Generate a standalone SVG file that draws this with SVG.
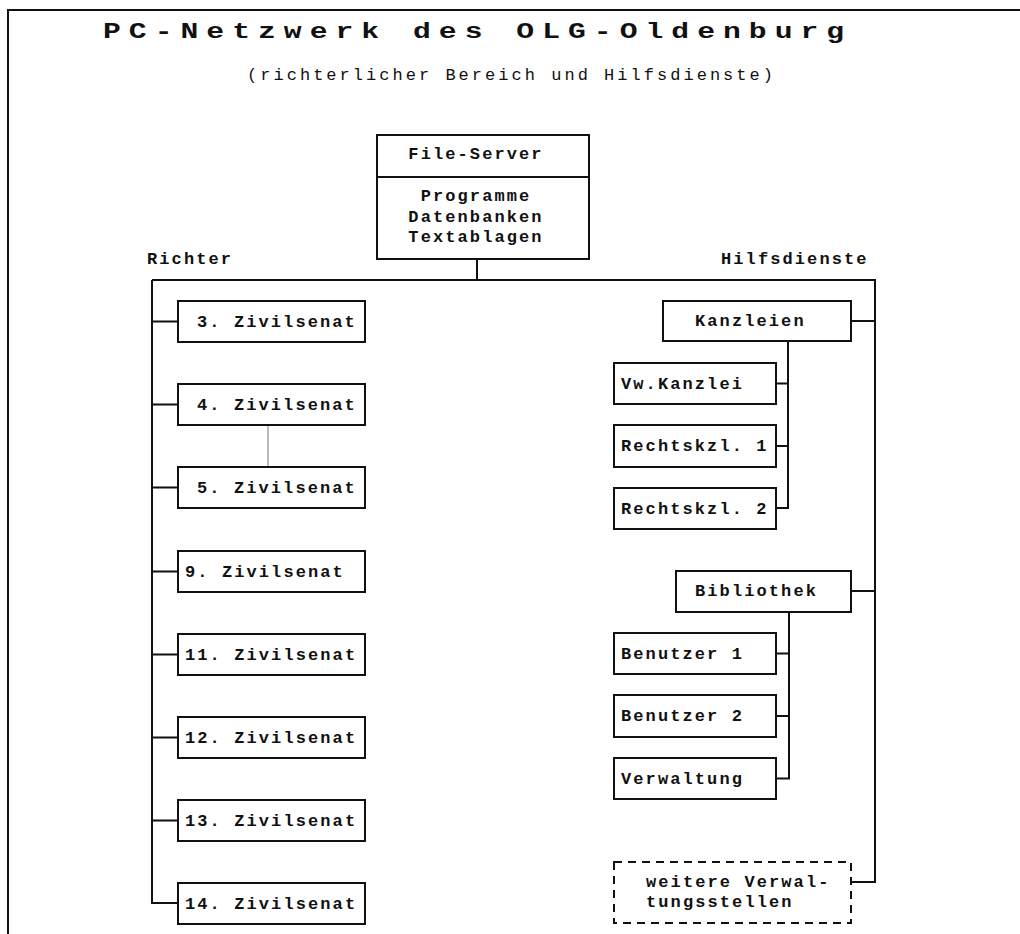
<svg xmlns="http://www.w3.org/2000/svg" width="1020" height="934" viewBox="0 0 1020 934">
<style>
.box{fill:#fff;stroke:#111;stroke-width:2}
.dash{fill:#fff;stroke:#111;stroke-width:2;stroke-dasharray:8 6}
.ln{fill:none;stroke:#111;stroke-width:2}
.t{font-family:"Liberation Mono","DejaVu Sans Mono",monospace;font-size:17px;font-weight:bold;letter-spacing:2.1px;fill:#111}
.title{font-family:"Liberation Mono","DejaVu Sans Mono",monospace;font-size:22px;font-weight:bold;fill:#111}
.sub{font-family:"Liberation Mono","DejaVu Sans Mono",monospace;font-size:17px;fill:#111}
</style>
<rect width="1020" height="934" fill="#fff"/>
<g id="frame">
<path class="ln" d="M8,934 V10 H1020"/>
</g>
<text class="title" transform="translate(103,38) scale(1.35,1)" x="0" y="0" textLength="549" lengthAdjust="spacing">PC-Netzwerk des OLG-Oldenburg</text>
<text class="sub" x="247" y="80" textLength="526" lengthAdjust="spacing">(richterlicher Bereich und Hilfsdienste)</text>
<text class="t" x="147" y="264">Richter</text>
<text class="t" x="721" y="264">Hilfsdienste</text>
<g id="connectors">
<path class="ln" d="M477,259 V280"/>
<path class="ln" d="M152,280 H875 V882 H851"/>
<path class="ln" d="M152,280 V903 H178"/>
<path class="ln" d="M152,321.5 H178 M152,404.5 H178 M152,487.5 H178 M152,571.5 H178 M152,654.5 H178 M152,737.5 H178 M152,820.5 H178"/>
<path class="ln" d="M851,321 H875 M851,591 H875"/>
<path class="ln" d="M788,341 V508 H776 M776,383.5 H788 M776,446 H788"/>
<path class="ln" d="M789,612 V778.5 H776 M776,653.5 H789 M776,716 H789"/>
<path d="M268,415 V478" stroke="#777" stroke-width="1" fill="none"/>
</g>
<g id="fileserver">
<rect class="box" x="377" y="135" width="212" height="124"/>
<line class="ln" x1="377" y1="177" x2="589" y2="177"/>
<text class="t" x="476" y="159" text-anchor="middle">File-Server</text>
<text class="t" x="476" y="201" text-anchor="middle">Programme</text>
<text class="t" x="476" y="222" text-anchor="middle">Datenbanken</text>
<text class="t" x="476" y="242" text-anchor="middle">Textablagen</text>
</g>
<g id="zs3"><rect class="box" x="178" y="301" width="187" height="41"/><text class="t" x="197" y="327">3. Zivilsenat</text></g>
<g id="zs4"><rect class="box" x="178" y="384" width="187" height="41"/><text class="t" x="197" y="410">4. Zivilsenat</text></g>
<g id="zs5"><rect class="box" x="178" y="467" width="187" height="41"/><text class="t" x="197" y="493">5. Zivilsenat</text></g>
<g id="zs9"><rect class="box" x="178" y="551" width="187" height="41"/><text class="t" x="185" y="577">9. Zivilsenat</text></g>
<g id="zs11"><rect class="box" x="178" y="634" width="187" height="41"/><text class="t" x="185" y="660">11. Zivilsenat</text></g>
<g id="zs12"><rect class="box" x="178" y="717" width="187" height="41"/><text class="t" x="185" y="743">12. Zivilsenat</text></g>
<g id="zs13"><rect class="box" x="178" y="800" width="187" height="41"/><text class="t" x="185" y="826">13. Zivilsenat</text></g>
<g id="zs14"><rect class="box" x="178" y="883" width="187" height="41"/><text class="t" x="185" y="909">14. Zivilsenat</text></g>
<g id="kanzleien"><rect class="box" x="663" y="301" width="188" height="40"/><text class="t" x="695" y="326">Kanzleien</text></g>
<g id="vwkanzlei"><rect class="box" x="614" y="363" width="162" height="41"/><text class="t" x="621" y="389">Vw.Kanzlei</text></g>
<g id="rk1"><rect class="box" x="614" y="425" width="162" height="42"/><text class="t" x="621" y="451">Rechtskzl. 1</text></g>
<g id="rk2"><rect class="box" x="614" y="488" width="162" height="41"/><text class="t" x="621" y="514">Rechtskzl. 2</text></g>
<g id="bibliothek"><rect class="box" x="676" y="571" width="175" height="41"/><text class="t" x="695" y="596">Bibliothek</text></g>
<g id="ben1"><rect class="box" x="614" y="633" width="162" height="41"/><text class="t" x="621" y="659">Benutzer 1</text></g>
<g id="ben2"><rect class="box" x="614" y="695" width="162" height="42"/><text class="t" x="621" y="721">Benutzer 2</text></g>
<g id="verwaltung"><rect class="box" x="614" y="758" width="162" height="41"/><text class="t" x="621" y="784">Verwaltung</text></g>
<g id="weitere"><rect class="dash" x="614" y="862" width="237" height="61"/><text class="t" x="646" y="887">weitere Verwal-</text><text class="t" x="646" y="907">tungsstellen</text></g>
</svg>
